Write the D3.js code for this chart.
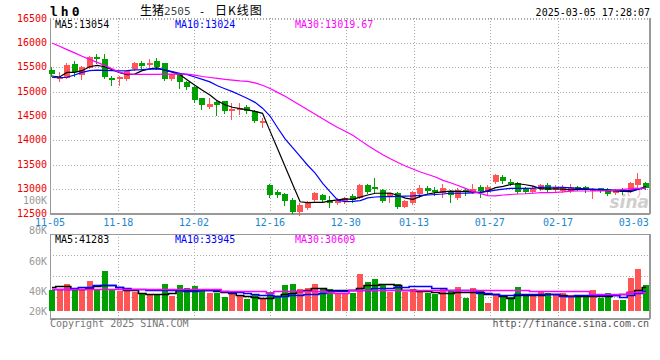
<!DOCTYPE html>
<html><head><meta charset="utf-8">
<script src="https://cdn.jsdelivr.net/npm/d3@7"></script>
<style>body{margin:0;background:#fff}svg{display:block}</style>
</head><body>
<svg id="c" width="660" height="360"></svg>
<script>
// ---------- data ----------
const dates = ["11-05","11-06","11-07","11-08","11-11","11-12","11-13","11-14","11-15","11-18","11-19","11-20","11-21","11-22","11-25","11-26","11-27","11-28","11-29",
"12-02","12-03","12-04","12-05","12-06","12-09","12-10","12-11","12-12","12-13","12-16","12-17","12-18","12-19","12-20","12-23","12-24","12-25","12-26","12-27","12-30","12-31",
"01-02","01-03","01-06","01-07","01-08","01-09","01-10","01-13","01-14","01-15","01-16","01-17","01-20","01-21","01-22","01-23","01-24","01-27",
"02-05","02-06","02-07","02-10","02-11","02-12","02-13","02-14","02-17","02-18","02-19","02-20","02-21","02-24","02-25","02-26","02-27","02-28",
"03-03","03-04","03-05"];
const open = [15435,15250,15285,15570,15340,15490,15715,15670,15285,15250,
15250,15455,15580,15545,15625,15590,15250,15355,15195,15090,
14860,14690,14790,14800,14600,14645,14690,14605,14375,13085,
12950,12900,12775,12540,12605,12775,12880,12775,12720,12760,
12860,12825,13085,13035,12980,12830,12930,12640,12710,12900,
13015,12980,12930,12950,12810,12985,12950,13050,12950,13140,
13255,13155,13120,13015,12950,13005,13085,12985,12960,12960,
13050,13050,12960,13015,13005,12915,12985,12985,13085,13120];
const high = [15505,15405,15585,15625,15525,15730,15765,15775,15320,15320,
15440,15600,15625,15660,15695,15595,15365,15385,15215,15115,
14875,14860,14805,14815,14765,14770,14735,14615,14455,13105,
12980,12915,12810,12720,12750,12950,12910,12860,12810,12845,
12900,13105,13105,13220,12995,12930,12940,12775,12960,13085,
13065,13050,13105,12980,13015,13015,13100,13085,13085,13305,
13290,13210,13155,13050,13070,13100,13120,13085,13085,13100,
13070,13070,13015,13030,13030,13005,13015,13155,13325,13155];
const low = [15315,15215,15270,15320,15250,15490,15590,15270,15145,15135,
15235,15450,15455,15505,15455,15230,15245,15065,15045,14790,
14635,14665,14530,14565,14430,14545,14565,14380,14280,12840,
12845,12675,12505,12470,12590,12745,12730,12640,12695,12720,
12745,12810,12925,12915,12745,12745,12605,12625,12695,12845,
12915,12880,12845,12745,12790,12880,12915,12845,12880,13120,
13120,13085,12915,12915,12935,12985,12935,12960,12950,12950,
12985,12950,12825,12950,12880,12895,12895,12950,13050,13005];
const close = [15355,15295,15540,15400,15505,15715,15660,15300,15230,15305,
15420,15580,15525,15580,15510,15250,15355,15195,15090,14820,
14735,14750,14735,14605,14645,14670,14595,14390,14400,12880,
12875,12765,12540,12675,12745,12915,12775,12710,12765,12810,
12775,13085,12950,12995,12765,12915,12640,12765,12950,13015,
12960,12940,13015,12880,12985,12935,13005,12960,13050,13290,
13170,13140,12950,12935,13030,13085,12985,13050,13040,13050,
13005,12985,13005,12985,12895,12960,12935,13120,13210,13020];
const volume = [36000,36000,45600,36000,36000,51000,36000,69000,36000,33000,
33600,31800,28200,28200,28200,46200,24600,44400,39000,42600,
36000,30000,30000,22800,28800,24600,19200,27000,19200,31800,
22800,44400,46200,36600,39000,46200,37200,36600,30600,30600,
30600,63600,49200,54600,46800,31800,46800,31800,36600,34800,
30000,28200,37800,33600,40200,20400,38400,33600,12000,25800,
22800,23400,40200,25800,28200,31800,30000,26400,30000,25800,
22800,24000,34800,21000,30000,16800,16800,56400,72600,43800];
const ma5 = [15320,15300,15395,15395,15430,15510,15540,15510,15450,15390,
15350,15360,15430,15465,15485,15440,15400,15350,15240,15130,
15030,14930,14810,14730,14680,14650,14625,14595,14555,14190,
13830,13465,13100,12740,12725,12730,12730,12760,12780,12800,
12790,12835,12880,12915,12915,12920,12870,12815,12790,12850,
12900,12930,12945,12960,12955,12950,12940,12930,12970,13030,
13055,13095,13110,13090,13060,13005,13005,13005,13000,12985,
12995,13000,12990,12980,12970,12962,12955,12950,13000,13054];
const ma10 = [15290,15285,15295,15340,15395,15430,15440,15435,15432,15425,
15430,15445,15450,15460,15465,15445,15410,15375,15350,15300,
15250,15200,15120,15060,15000,14930,14860,14780,14660,14500,
14260,14030,13850,13670,13490,13330,13120,12945,12775,12745,
12750,12765,12820,12838,12845,12848,12852,12856,12860,12870,
12880,12890,12900,12915,12915,12915,12925,12940,12955,12980,
13000,13017,13017,13017,13020,13035,13038,13038,13035,13025,
13017,13005,13000,12990,12983,12978,12970,12975,13000,13024];
const ma30 = [15996,15930,15861,15795,15727,15661,15600,15538,15467,15395,
15364,15355,15355,15355,15355,15360,15360,15360,15360,15340,
15310,15290,15270,15250,15235,15220,15210,15180,15130,15065,
14984,14906,14814,14720,14627,14537,14445,14353,14264,14186,
14106,14000,13893,13798,13707,13622,13545,13473,13412,13352,
13300,13250,13180,13130,13075,13015,12948,12908,12868,12860,
12880,12890,12900,12905,12915,12927,12930,12935,12945,12960,
12962,12962,12962,12965,12970,12980,12995,13010,13015,13020];
const volMa5 = [40200,42000,42000,37800,37800,39600,43200,43800,43800,40800,
36000,36000,30000,28800,28800,28800,30000,34800,36000,36000,
35000,35000,33000,31800,29000,27000,24000,22800,21600,21600,
24000,28800,30000,34000,36000,39000,39000,36000,34800,34800,
36000,39600,45000,45000,46800,46800,43800,36000,36000,33600,
33600,31800,30000,30000,31800,31800,31800,31800,27600,27600,
24000,21600,25800,25800,27000,27000,28800,28800,25800,24000,
24000,24000,24000,24000,24000,25800,28800,31800,36000,41283];
const volMa10 = [37800,37800,37800,39000,40000,40000,43800,43800,43800,40800,
39000,37800,37000,36000,35500,34800,34800,34800,33600,33600,
34800,34800,34800,33600,31800,31800,30000,28800,27000,27000,
24000,24000,27000,27000,28800,28800,30600,33600,33600,33600,
36000,36000,36000,39600,39600,39600,40800,40800,42000,42000,
42000,39000,39000,36000,36000,34800,34800,30000,30000,28800,
27000,27000,27600,27600,27600,27600,27600,27600,24000,24000,
25800,25800,25800,27000,27000,27000,22800,25800,30000,33945];
const volMa30 = [36600,36600,36600,36600,36600,36600,36600,36600,36600,36600,
36600,36600,36600,36600,36600,36600,36600,36600,36600,36600,
36600,36600,36600,34200,34200,34200,34200,34200,34200,30000,
33000,33000,33000,33000,33000,33000,33000,32000,30600,30600,
34800,34800,34800,34800,34800,34800,34800,34800,34800,34800,
34800,34800,34800,34800,34800,34800,34800,34800,34800,34800,
34800,34800,34800,34800,33000,33000,33000,33000,33000,33000,
33000,33000,28800,28800,28800,28800,28800,31200,31000,30609];
const priceTicks = [12500,13000,13500,14000,14500,15000,15500,16000,16500];
const dateTicks = ["11-05","11-18","12-02","12-16","12-30","01-13","01-27","02-17","03-03"];
const volTickLabels = ["100K","80K","60K","40K","20K"];
const mainLegend = ["MA5:13054","MA10:13024","MA30:13019.67"];
const volLegend = ["MA5:41283","MA10:33945","MA30:30609"];
const titleParts = ["生猪", "2505", " - ", "日K线图"];
const codeText = "lh0";
const timeText = "2025-03-05 17:28:07";

// ---------- layout ----------
const L = 50, R = 649, mTop = 18, mBot = 213, vTop = 234, vBot = 318, vBase = 311;
const UP = "#ff5555", DOWN = "#00a000";
const maColors = ["#000000", "#0000ff", "#ff00ff"];
const mono = "'DejaVu Sans Mono', monospace";
const cjk = "'Noto Sans CJK SC', sans-serif";
const svg = d3.select("#c");
const n = dates.length;

const x = d3.scaleBand().domain(d3.range(n)).range([49, 649]).paddingInner(0.2);
const xg = d3.scalePoint().domain(d3.range(n)).range([L, R]);
const y = d3.scaleLinear().domain([12500, 16500]).range([213.5, 18.5]);
const yv = d3.scaleLinear().domain([0, 135000]).range([309.5, 234.5]);
const bodyW = Math.round(x.bandwidth());
const xl = i => Math.round(x(i) + x.bandwidth() / 2 - bodyW / 2);

// ---------- grid ----------
const grid = svg.append("g").attr("stroke", "#aaa").attr("stroke-dasharray", "1,2")
  .attr("shape-rendering", "crispEdges");
priceTicks.filter(t => t > 12500).forEach(t => {
  const yy = Math.round(y(t)) + 0.5;
  grid.append("line").attr("x1", L).attr("x2", R).attr("y1", yy).attr("y2", yy);
});
const tickIdx = dateTicks.map(d => dates.indexOf(d));
tickIdx.slice(1, -1).forEach(i => {
  const xx = Math.round(xg(i)) + 0.5;
  grid.append("line").attr("x1", xx).attr("x2", xx).attr("y1", mTop).attr("y2", mBot);
  grid.append("line").attr("x1", xx).attr("x2", xx).attr("y1", vTop).attr("y2", vBot);
});
[1, 2, 3].forEach(k => {
  const yy = Math.round(vTop + k * (vBot - vTop) / 4) + 0.5;
  grid.append("line").attr("x1", L).attr("x2", R).attr("y1", yy).attr("y2", yy);
});

// ---------- frames ----------
const fr = svg.append("g").attr("stroke", "#999").attr("fill", "none").attr("shape-rendering", "crispEdges");
fr.append("line").attr("x1", L + 0.5).attr("x2", L + 0.5).attr("y1", mTop).attr("y2", mBot + 1);
fr.append("line").attr("x1", R + 0.5).attr("x2", R + 0.5).attr("y1", mTop).attr("y2", mBot + 1).attr("stroke-width", 2);
fr.append("line").attr("x1", L).attr("x2", R + 1).attr("y1", mBot + 0.5).attr("y2", mBot + 0.5).attr("stroke-width", 2);
fr.append("line").attr("x1", L).attr("x2", R + 1).attr("y1", mTop + 0.5).attr("y2", mTop + 0.5).attr("stroke-dasharray", "1,2").attr("stroke", "#aaa");
fr.append("line").attr("x1", L + 0.5).attr("x2", L + 0.5).attr("y1", vTop).attr("y2", vBot + 1);
fr.append("line").attr("x1", R + 0.5).attr("x2", R + 0.5).attr("y1", vTop).attr("y2", vBot + 1).attr("stroke-width", 2);
fr.append("line").attr("x1", L).attr("x2", R + 1).attr("y1", vTop + 0.5).attr("y2", vTop + 0.5);
fr.append("line").attr("x1", L).attr("x2", R + 1).attr("y1", vBot + 0.5).attr("y2", vBot + 0.5).attr("stroke-width", 2);

// ---------- watermark ----------
const wm = svg.append("g");
wm.append("path").attr("d", d3.arc()({innerRadius: 5, outerRadius: 6.5, startAngle: -2.2, endAngle: 2.6}))
  .attr("transform", "translate(634,193)").attr("fill", "#f3c2c2");
wm.append("text").attr("x", 649).attr("y", 208).attr("text-anchor", "end")
  .attr("font-family", "'DejaVu Sans', sans-serif").attr("font-style", "italic").attr("font-weight", "bold")
  .attr("font-size", 17).attr("fill", "#cfcfcf").text("sina");

// ---------- candles ----------
const cg = svg.append("g").attr("shape-rendering", "crispEdges");
d3.range(n).forEach(i => {
  const up = close[i] >= open[i];
  const col = up ? UP : DOWN;
  const x0 = xl(i);
  const wx = x0 + Math.floor(bodyW / 2) - 0.5;
  cg.append("line").attr("x1", wx).attr("x2", wx)
    .attr("y1", Math.round(y(high[i]))).attr("y2", Math.round(y(low[i])) + 1)
    .attr("stroke", col);
  const top = Math.round(y(Math.max(open[i], close[i])));
  const bot = Math.round(y(Math.min(open[i], close[i])));
  cg.append("rect").attr("x", x0).attr("y", top).attr("width", bodyW)
    .attr("height", Math.max(2, bot - top)).attr("fill", col);
});

// ---------- MA lines (price) ----------
const line = d3.line().x((d, i) => x(i) + x.bandwidth() / 2).y(d => y(d));
[ma5, ma10, ma30].forEach((s, k) => {
  svg.append("path").datum(s).attr("d", line).attr("fill", "none")
    .attr("stroke", maColors[k]).attr("stroke-width", 1.2);
});

// ---------- volume ----------
const vg = svg.append("g").attr("shape-rendering", "crispEdges");
volume.forEach((v, i) => {
  const up = close[i] >= open[i];
  const top = Math.round(yv(v));
  vg.append("rect").attr("x", xl(i)).attr("y", top).attr("width", bodyW)
    .attr("height", vBase - top).attr("fill", up ? UP : DOWN);
});
const vline = d3.line().curve(d3.curveStep).x((d, i) => x(i) + x.bandwidth() / 2).y(d => Math.round(yv(d)) + 0.5);
[volMa5, volMa10, volMa30].forEach((s, k) => {
  svg.append("path").datum(s).attr("d", vline).attr("fill", "none")
    .attr("stroke", maColors[k]).attr("stroke-width", 1.6);
});

// ---------- texts ----------
const t = svg.append("g").attr("font-family", mono).attr("font-size", 10);
priceTicks.forEach(p => {
  t.append("text").attr("x", 47).attr("y", y(p) - 0.5).attr("dy", "0.35em").attr("text-anchor", "end")
    .attr("fill", "#ee0000").text(p);
});
volTickLabels.forEach((s, k) => {
  t.append("text").attr("x", 47).attr("y", Math.min(200.5 + 30.3 * k, vBase)).attr("dy", "0.35em")
    .attr("text-anchor", "end").attr("fill", "#999").text(s);
});
dateTicks.forEach((d, k) => {
  t.append("text").attr("x", xg(tickIdx[k])).attr("y", 225.5).attr("text-anchor", "middle")
    .attr("fill", "#1a86cc").text(d);
});
const legX = [55, 175, 295];
mainLegend.forEach((s, k) => {
  t.append("text").attr("x", legX[k]).attr("y", 27.5).attr("fill", maColors[k]).text(s);
});
volLegend.forEach((s, k) => {
  t.append("text").attr("x", legX[k]).attr("y", 242.5).attr("fill", maColors[k]).text(s);
});
t.append("text").attr("x", 650).attr("y", 15.5).attr("text-anchor", "end").attr("fill", "#000").text(timeText);
t.append("text").attr("x", 50).attr("y", 327).attr("fill", "#777").text("Copyright 2025 SINA.COM");
t.append("text").attr("x", 649).attr("y", 327).attr("text-anchor", "end").attr("fill", "#555").text("http://finance.sina.com.cn");
svg.append("text").attr("x", 50).attr("y", 15.5).attr("font-family", mono).attr("font-weight", "bold")
  .attr("font-size", 13).attr("letter-spacing", 3).attr("fill", "#000").text(codeText);
const title = svg.append("text").attr("x", 140).attr("y", 15).style("white-space", "pre");
title.append("tspan").attr("font-family", cjk).attr("font-size", 12).attr("fill", "#000").text(titleParts[0]);
title.append("tspan").attr("font-family", mono).attr("font-size", 11).attr("fill", "#444").text(titleParts[1]);
title.append("tspan").attr("font-family", mono).attr("font-size", 11).attr("letter-spacing", 1.5).attr("fill", "#000").text(titleParts[2]);
title.append("tspan").attr("font-family", cjk).attr("font-size", 12).attr("letter-spacing", 1).attr("fill", "#000").text(titleParts[3]);
</script>
</body></html>
